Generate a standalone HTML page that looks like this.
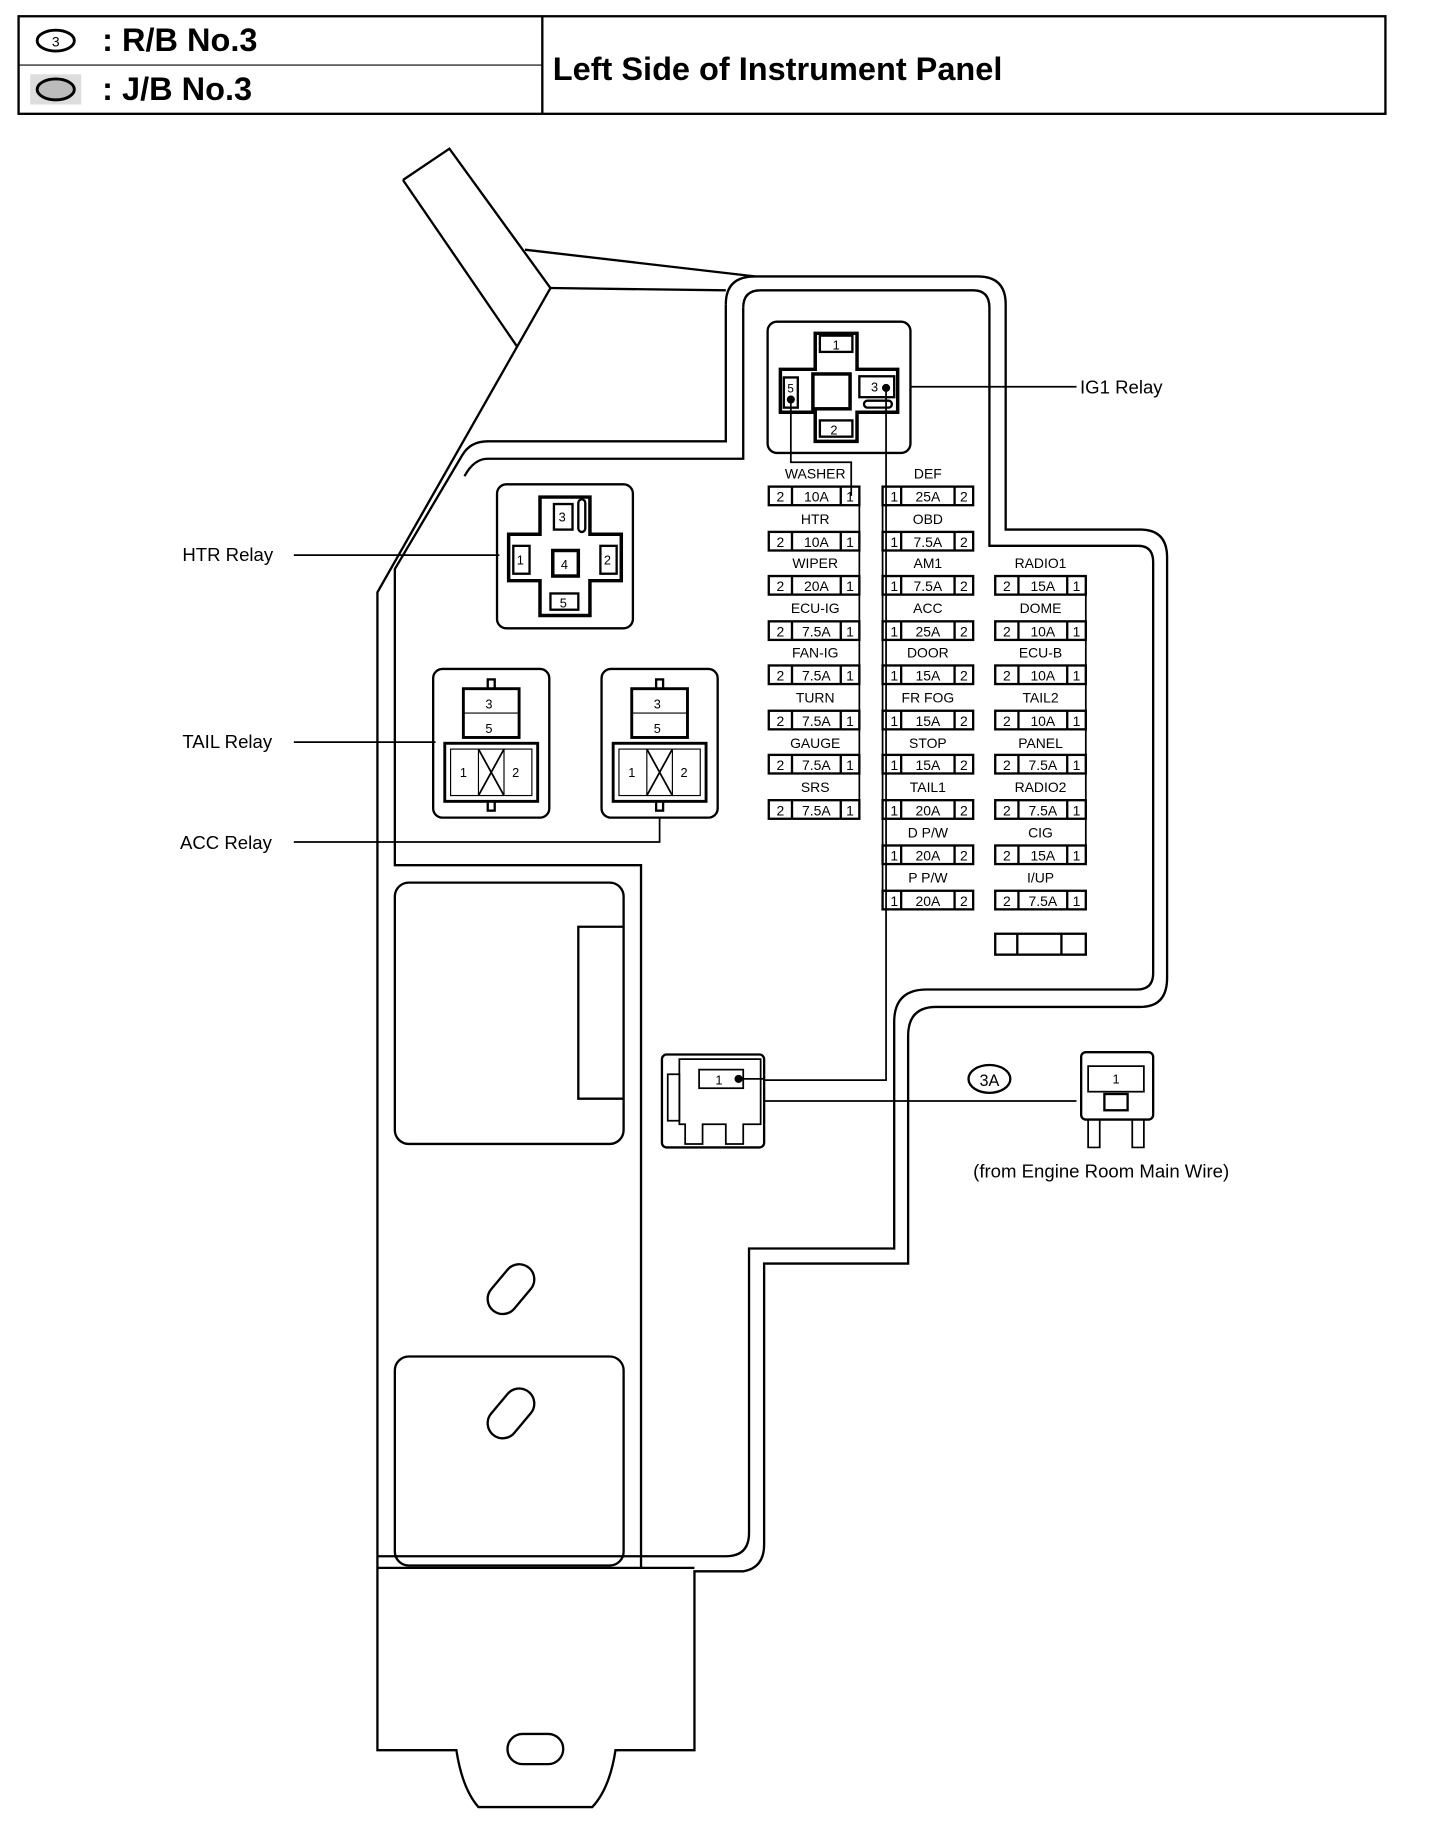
<!DOCTYPE html>
<html><head><meta charset="utf-8"><style>
html,body{margin:0;padding:0;background:#fff}
svg{display:block}
text{font-family:"Liberation Sans",sans-serif;fill:#000}
.f text{font-size:12px;text-anchor:middle}
.lb{font-size:12px;text-anchor:middle}
</style></head><body>
<svg width="1440" height="1828" viewBox="0 0 1240 1574" preserveAspectRatio="none" xmlns="http://www.w3.org/2000/svg" fill="none" stroke="#000" stroke-width="2">
<!-- header -->
<rect x="16" y="14" width="1177" height="84" stroke-width="2"/>
<line x1="16" y1="56" x2="467" y2="56" stroke-width="1"/>
<line x1="467" y1="14" x2="467" y2="98"/>
<ellipse cx="48" cy="35" rx="16" ry="9" stroke-width="2.5"/>
<text x="48" y="40" font-size="12" text-anchor="middle" stroke="none">3</text>
<rect x="26" y="64" width="44" height="26" fill="#ddd" stroke="none"/>
<ellipse cx="48" cy="77" rx="16" ry="9" stroke-width="2.5" fill="#bbb"/>
<text x="88" y="44" font-size="28" font-weight="bold" stroke="none">: R/B No.3</text>
<text x="88" y="86" font-size="28" font-weight="bold" stroke="none">: J/B No.3</text>
<text x="476" y="69" font-size="28" font-weight="bold" stroke="none">Left Side of Instrument Panel</text>

<!-- panel outline -->
<path d="M347 155 L387 128 L474 248"/>
<path d="M347 155 L445 298"/>
<path d="M452 215 L650 238"/>
<path d="M474 248 L625 250"/>
<path d="M474 248 L325 510 L325 1507 L393 1507 Q398 1540 412 1556 L510 1556 Q525 1540 530 1507 L598 1507 L598 1353 L640 1353 Q658 1350 658 1330 L658 1088 L782 1088 L782 892 Q782 867 806 867 L982 867 Q1005 867 1005 842 L1005 480 Q1005 456 982 456 L866 456 L866 262 Q866 238 842 238 L650 238 Q625 238 625 262"/>
<path d="M625 262 L625 380 L420 380 Q405 380 398 392 L340 490 L340 745 L552 745 L552 1350"/>
<path d="M640 265 Q640 250 655 250 L838 250 Q852 250 852 265 L852 470 L980 470 Q993 470 993 484 L993 838 Q993 852 979 852 L798 852 Q770 852 770 880 L770 1075 L645 1075 L645 1320 Q645 1340 625 1340 L325 1340"/>
<path d="M640 265 L640 395 L420 395 Q408 395 400 410"/>
<path d="M325 1350 L598 1350"/>
<!-- inner rounded boxes -->
<rect x="340" y="760" width="197" height="225" rx="12"/>
<rect x="340" y="1168" width="197" height="180" rx="12"/>
<path d="M537 798 L498 798 L498 946 L537 946"/>
<rect x="416" y="1097" width="48" height="26" rx="13" transform="rotate(-50 440 1110)"/>
<rect x="416" y="1204" width="48" height="26" rx="13" transform="rotate(-50 440 1217)"/>
<rect x="437" y="1493" width="48" height="26" rx="13"/>

<!-- IG1 relay -->
<rect x="661" y="277" width="123" height="113" rx="8"/>
<path d="M702 287 L738 287 L738 318 L773 318 L773 355 L738 355 L738 380 L702 380 L702 355 L672 355 L672 318 L702 318 Z" stroke-width="3"/>
<rect x="706" y="289" width="28" height="14"/><text x="717" y="301" font-size="11" stroke="none">1</text>
<rect x="706" y="362" width="28" height="14"/><text x="715" y="374" font-size="11" stroke="none">2</text>
<rect x="675" y="325" width="12" height="26"/><text x="678" y="338" font-size="10" stroke="none">5</text>
<rect x="740" y="324" width="30" height="18"/><text x="750" y="337" font-size="11" stroke="none">3</text>
<rect x="700" y="322" width="32" height="30" stroke-width="3"/>
<rect x="744" y="345" width="24" height="6" rx="3"/>
<circle cx="681" cy="344" r="2.5" fill="#000"/><circle cx="763" cy="334" r="2.5" fill="#000"/>
<path d="M681 344 L681 398 L733 398 L733 427" stroke-width="1.5"/>
<path d="M763 334 L763 930 L658 930" stroke-width="1.5"/>
<line x1="784" y1="333" x2="927" y2="333" stroke-width="1.5"/>
<text x="930" y="339" font-size="16" stroke="none">IG1 Relay</text>

<!-- HTR relay -->
<rect x="428" y="417" width="117" height="124" rx="8"/>
<path d="M465 428 L508 428 L508 460 L535 460 L535 500 L508 500 L508 530 L465 530 L465 500 L438 500 L438 460 L465 460 Z" stroke-width="3"/>
<rect x="477" y="434" width="16" height="22"/><text x="481" y="449" font-size="11" stroke="none">3</text>
<rect x="498" y="430" width="6" height="28" rx="3"/>
<rect x="442" y="470" width="14" height="24"/><text x="445" y="486" font-size="11" stroke="none">1</text>
<rect x="517" y="470" width="14" height="24"/><text x="520" y="486" font-size="11" stroke="none">2</text>
<rect x="476" y="474" width="22" height="22" stroke-width="3"/><text x="483" y="490" font-size="11" stroke="none">4</text>
<rect x="474" y="511" width="24" height="14"/><text x="482" y="523" font-size="11" stroke="none">5</text>
<line x1="253" y1="478" x2="430" y2="478" stroke-width="1.5"/>
<text x="157" y="483" font-size="16" stroke="none">HTR Relay</text>

<!-- TAIL relay -->
<rect x="373" y="576" width="100" height="128" rx="8"/>
<rect x="399" y="593" width="48" height="42" stroke-width="2.5"/><line x1="399" y1="614" x2="447" y2="614" stroke-width="1"/>
<text x="418" y="610" font-size="11" stroke="none">3</text><text x="418" y="631" font-size="11" stroke="none">5</text>
<rect x="420" y="585" width="6" height="8"/>
<rect x="383" y="640" width="80" height="50" stroke-width="2.5"/>
<rect x="388" y="645" width="70" height="40" stroke-width="1"/>
<line x1="412" y1="645" x2="412" y2="685" stroke-width="1"/><line x1="434" y1="645" x2="434" y2="685" stroke-width="1"/>
<path d="M412 645 L434 685 M434 645 L412 685" stroke-width="1.5"/>
<text x="396" y="669" font-size="11" stroke="none">1</text><text x="441" y="669" font-size="11" stroke="none">2</text>
<rect x="420" y="690" width="6" height="8"/>
<line x1="253" y1="639" x2="375" y2="639" stroke-width="1.5"/>
<text x="157" y="644" font-size="16" stroke="none">TAIL Relay</text>

<!-- ACC relay -->
<rect x="518" y="576" width="100" height="128" rx="8"/>
<rect x="544" y="593" width="48" height="42" stroke-width="2.5"/><line x1="544" y1="614" x2="592" y2="614" stroke-width="1"/>
<text x="563" y="610" font-size="11" stroke="none">3</text><text x="563" y="631" font-size="11" stroke="none">5</text>
<rect x="565" y="585" width="6" height="8"/>
<rect x="528" y="640" width="80" height="50" stroke-width="2.5"/>
<rect x="533" y="645" width="70" height="40" stroke-width="1"/>
<line x1="557" y1="645" x2="557" y2="685" stroke-width="1"/><line x1="579" y1="645" x2="579" y2="685" stroke-width="1"/>
<path d="M557 645 L579 685 M579 645 L557 685" stroke-width="1.5"/>
<text x="541" y="669" font-size="11" stroke="none">1</text><text x="586" y="669" font-size="11" stroke="none">2</text>
<rect x="565" y="690" width="6" height="8"/>
<path d="M253 725 L568 725 L568 704" stroke-width="1.5"/>
<text x="155" y="731" font-size="16" stroke="none">ACC Relay</text>

<!-- column connector lines -->
<path d="M740 427 L740 697" stroke-width="1.5"/>
<path d="M760 427 L760 780" stroke-width="1.5"/>
<path d="M935 504 L935 736" stroke-width="1.5"/>

<!-- fuses -->
<g class="f" stroke-width="2">
<g transform="translate(662,419)"><rect width="78" height="16"/><line x1="20" y1="0" x2="20" y2="16"/><line x1="62" y1="0" x2="62" y2="16"/><g stroke="none"><text x="10" y="13">2</text><text x="41" y="13">10A</text><text x="70" y="13">1</text></g></g>
<g transform="translate(662,458)"><rect width="78" height="16"/><line x1="20" y1="0" x2="20" y2="16"/><line x1="62" y1="0" x2="62" y2="16"/><g stroke="none"><text x="10" y="13">2</text><text x="41" y="13">10A</text><text x="70" y="13">1</text></g></g>
<g transform="translate(662,496)"><rect width="78" height="16"/><line x1="20" y1="0" x2="20" y2="16"/><line x1="62" y1="0" x2="62" y2="16"/><g stroke="none"><text x="10" y="13">2</text><text x="41" y="13">20A</text><text x="70" y="13">1</text></g></g>
<g transform="translate(662,535)"><rect width="78" height="16"/><line x1="20" y1="0" x2="20" y2="16"/><line x1="62" y1="0" x2="62" y2="16"/><g stroke="none"><text x="10" y="13">2</text><text x="41" y="13">7.5A</text><text x="70" y="13">1</text></g></g>
<g transform="translate(662,573)"><rect width="78" height="16"/><line x1="20" y1="0" x2="20" y2="16"/><line x1="62" y1="0" x2="62" y2="16"/><g stroke="none"><text x="10" y="13">2</text><text x="41" y="13">7.5A</text><text x="70" y="13">1</text></g></g>
<g transform="translate(662,612)"><rect width="78" height="16"/><line x1="20" y1="0" x2="20" y2="16"/><line x1="62" y1="0" x2="62" y2="16"/><g stroke="none"><text x="10" y="13">2</text><text x="41" y="13">7.5A</text><text x="70" y="13">1</text></g></g>
<g transform="translate(662,650)"><rect width="78" height="16"/><line x1="20" y1="0" x2="20" y2="16"/><line x1="62" y1="0" x2="62" y2="16"/><g stroke="none"><text x="10" y="13">2</text><text x="41" y="13">7.5A</text><text x="70" y="13">1</text></g></g>
<g transform="translate(662,689)"><rect width="78" height="16"/><line x1="20" y1="0" x2="20" y2="16"/><line x1="62" y1="0" x2="62" y2="16"/><g stroke="none"><text x="10" y="13">2</text><text x="41" y="13">7.5A</text><text x="70" y="13">1</text></g></g>
<g transform="translate(760,419)"><rect width="78" height="16"/><line x1="16" y1="0" x2="16" y2="16"/><line x1="62" y1="0" x2="62" y2="16"/><g stroke="none"><text x="10" y="13">1</text><text x="39" y="13">25A</text><text x="70" y="13">2</text></g></g>
<g transform="translate(760,458)"><rect width="78" height="16"/><line x1="16" y1="0" x2="16" y2="16"/><line x1="62" y1="0" x2="62" y2="16"/><g stroke="none"><text x="10" y="13">1</text><text x="39" y="13">7.5A</text><text x="70" y="13">2</text></g></g>
<g transform="translate(760,496)"><rect width="78" height="16"/><line x1="16" y1="0" x2="16" y2="16"/><line x1="62" y1="0" x2="62" y2="16"/><g stroke="none"><text x="10" y="13">1</text><text x="39" y="13">7.5A</text><text x="70" y="13">2</text></g></g>
<g transform="translate(760,535)"><rect width="78" height="16"/><line x1="16" y1="0" x2="16" y2="16"/><line x1="62" y1="0" x2="62" y2="16"/><g stroke="none"><text x="10" y="13">1</text><text x="39" y="13">25A</text><text x="70" y="13">2</text></g></g>
<g transform="translate(760,573)"><rect width="78" height="16"/><line x1="16" y1="0" x2="16" y2="16"/><line x1="62" y1="0" x2="62" y2="16"/><g stroke="none"><text x="10" y="13">1</text><text x="39" y="13">15A</text><text x="70" y="13">2</text></g></g>
<g transform="translate(760,612)"><rect width="78" height="16"/><line x1="16" y1="0" x2="16" y2="16"/><line x1="62" y1="0" x2="62" y2="16"/><g stroke="none"><text x="10" y="13">1</text><text x="39" y="13">15A</text><text x="70" y="13">2</text></g></g>
<g transform="translate(760,650)"><rect width="78" height="16"/><line x1="16" y1="0" x2="16" y2="16"/><line x1="62" y1="0" x2="62" y2="16"/><g stroke="none"><text x="10" y="13">1</text><text x="39" y="13">15A</text><text x="70" y="13">2</text></g></g>
<g transform="translate(760,689)"><rect width="78" height="16"/><line x1="16" y1="0" x2="16" y2="16"/><line x1="62" y1="0" x2="62" y2="16"/><g stroke="none"><text x="10" y="13">1</text><text x="39" y="13">20A</text><text x="70" y="13">2</text></g></g>
<g transform="translate(760,728)"><rect width="78" height="16"/><line x1="16" y1="0" x2="16" y2="16"/><line x1="62" y1="0" x2="62" y2="16"/><g stroke="none"><text x="10" y="13">1</text><text x="39" y="13">20A</text><text x="70" y="13">2</text></g></g>
<g transform="translate(760,767)"><rect width="78" height="16"/><line x1="16" y1="0" x2="16" y2="16"/><line x1="62" y1="0" x2="62" y2="16"/><g stroke="none"><text x="10" y="13">1</text><text x="39" y="13">20A</text><text x="70" y="13">2</text></g></g>
<g transform="translate(857,496)"><rect width="78" height="16"/><line x1="20" y1="0" x2="20" y2="16"/><line x1="62" y1="0" x2="62" y2="16"/><g stroke="none"><text x="10" y="13">2</text><text x="41" y="13">15A</text><text x="70" y="13">1</text></g></g>
<g transform="translate(857,535)"><rect width="78" height="16"/><line x1="20" y1="0" x2="20" y2="16"/><line x1="62" y1="0" x2="62" y2="16"/><g stroke="none"><text x="10" y="13">2</text><text x="41" y="13">10A</text><text x="70" y="13">1</text></g></g>
<g transform="translate(857,573)"><rect width="78" height="16"/><line x1="20" y1="0" x2="20" y2="16"/><line x1="62" y1="0" x2="62" y2="16"/><g stroke="none"><text x="10" y="13">2</text><text x="41" y="13">10A</text><text x="70" y="13">1</text></g></g>
<g transform="translate(857,612)"><rect width="78" height="16"/><line x1="20" y1="0" x2="20" y2="16"/><line x1="62" y1="0" x2="62" y2="16"/><g stroke="none"><text x="10" y="13">2</text><text x="41" y="13">10A</text><text x="70" y="13">1</text></g></g>
<g transform="translate(857,650)"><rect width="78" height="16"/><line x1="20" y1="0" x2="20" y2="16"/><line x1="62" y1="0" x2="62" y2="16"/><g stroke="none"><text x="10" y="13">2</text><text x="41" y="13">7.5A</text><text x="70" y="13">1</text></g></g>
<g transform="translate(857,689)"><rect width="78" height="16"/><line x1="20" y1="0" x2="20" y2="16"/><line x1="62" y1="0" x2="62" y2="16"/><g stroke="none"><text x="10" y="13">2</text><text x="41" y="13">7.5A</text><text x="70" y="13">1</text></g></g>
<g transform="translate(857,728)"><rect width="78" height="16"/><line x1="20" y1="0" x2="20" y2="16"/><line x1="62" y1="0" x2="62" y2="16"/><g stroke="none"><text x="10" y="13">2</text><text x="41" y="13">15A</text><text x="70" y="13">1</text></g></g>
<g transform="translate(857,767)"><rect width="78" height="16"/><line x1="20" y1="0" x2="20" y2="16"/><line x1="62" y1="0" x2="62" y2="16"/><g stroke="none"><text x="10" y="13">2</text><text x="41" y="13">7.5A</text><text x="70" y="13">1</text></g></g>
</g>
<g stroke="none" class="lb">
<text class="lb" x="702" y="412">WASHER</text><text class="lb" x="702" y="451">HTR</text><text class="lb" x="702" y="489">WIPER</text><text class="lb" x="702" y="528">ECU-IG</text><text class="lb" x="702" y="566">FAN-IG</text><text class="lb" x="702" y="605">TURN</text><text class="lb" x="702" y="644">GAUGE</text><text class="lb" x="702" y="682">SRS</text>
<text class="lb" x="799" y="412">DEF</text><text class="lb" x="799" y="451">OBD</text><text class="lb" x="799" y="489">AM1</text><text class="lb" x="799" y="528">ACC</text><text class="lb" x="799" y="566">DOOR</text><text class="lb" x="799" y="605">FR FOG</text><text class="lb" x="799" y="644">STOP</text><text class="lb" x="799" y="682">TAIL1</text><text class="lb" x="799" y="721">D P/W</text><text class="lb" x="799" y="760">P P/W</text>
<text class="lb" x="896" y="489">RADIO1</text><text class="lb" x="896" y="528">DOME</text><text class="lb" x="896" y="566">ECU-B</text><text class="lb" x="896" y="605">TAIL2</text><text class="lb" x="896" y="644">PANEL</text><text class="lb" x="896" y="682">RADIO2</text><text class="lb" x="896" y="721">CIG</text><text class="lb" x="896" y="760">I/UP</text>
</g>
<rect x="857" y="804" width="78" height="18"/><line x1="876" y1="804" x2="876" y2="822"/><line x1="914" y1="804" x2="914" y2="822"/>

<!-- 3A connector left -->
<rect x="570" y="908" width="88" height="80" rx="4"/>
<path d="M585 912 L655 912 L655 968 L640 968 L640 985 L625 985 L625 968 L605 968 L605 985 L590 985 L590 968 L585 968 Z" stroke-width="1.5"/>
<rect x="575" y="925" width="10" height="40" stroke-width="1.5"/>
<rect x="602" y="921" width="38" height="16" stroke-width="1.5"/>
<text x="616" y="934" font-size="11" stroke="none">1</text>
<circle cx="636" cy="929" r="2.5" fill="#000"/>
<path d="M640 929 L658 929 M658 948 L927 948" stroke-width="1.5"/>
<ellipse cx="852" cy="929" rx="18" ry="12" stroke-width="2"/>
<text x="852" y="935" font-size="14" text-anchor="middle" stroke="none">3A</text>
<!-- right connector -->
<rect x="931" y="906" width="62" height="58" rx="4"/>
<rect x="937" y="918" width="48" height="22" stroke-width="1.5"/>
<text x="958" y="933" font-size="11" stroke="none">1</text>
<rect x="951" y="942" width="20" height="14" stroke-width="2"/>
<path d="M937 964 L937 988 L947 988 L947 964 M985 964 L985 988 L975 988 L975 964" stroke-width="1.5"/>
<text x="838" y="1014" font-size="16" stroke="none">(from Engine Room Main Wire)</text>
</svg>
</body></html>
